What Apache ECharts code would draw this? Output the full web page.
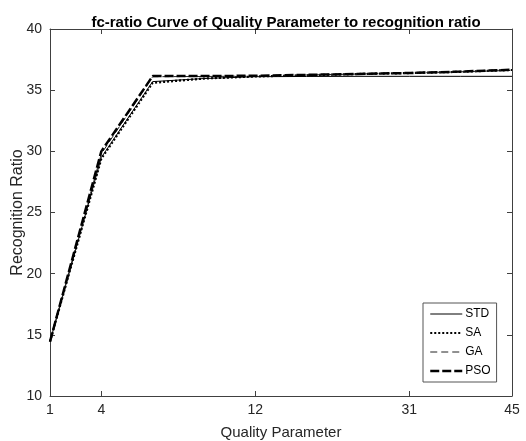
<!DOCTYPE html>
<html>
<head>
<meta charset="utf-8">
<script src="https://cdn.jsdelivr.net/npm/echarts@6/dist/echarts.min.js"></script>
<style>html,body{margin:0;padding:0;background:#fff}#c{width:526px;height:441px}</style>
</head>
<body>
<div id="c"></div>
<script>
// sample positions along x (equally spaced samples)
const xIndex = [0, 1, 2, 3, 4, 5, 6, 7, 8, 9];
// tick positions and their labels
const tickIndex = [0, 1, 4, 7, 9];
const tickLabels = ['1', '4', '12', '31', '45'];

const seriesNames = ['STD', 'SA', 'GA', 'PSO'];
const STD = [14.45, 29.5, 35.7, 35.95, 36.1, 36.12, 36.13, 36.13, 36.13, 36.13];
const SA  = [14.45, 29.4, 35.6, 35.95, 36.12, 36.22, 36.32, 36.4, 36.5, 36.65];
const GA  = [14.45, 29.8, 36.1, 36.12, 36.15, 36.24, 36.32, 36.4, 36.5, 36.62];
const PSO = [14.45, 30.0, 36.15, 36.15, 36.18, 36.25, 36.33, 36.4, 36.52, 36.67];

const font = 'Liberation Sans, Arial, sans-serif';
const axisCol = '#404040';
const txtCol = '#262626';

const styles = {
  STD: {color: '#000', width: 1, type: 'solid'},
  SA:  {color: '#000', width: 2.2, type: [2, 2]},
  GA:  {color: '#222', width: 1, type: [7, 4]},
  PSO: {color: '#000', width: 2.5, type: [9, 3]}
};

function pairs(v) { return xIndex.map((x, i) => [x, v[i]]); }

const chart = echarts.init(document.getElementById('c'), null, {renderer: 'canvas'});
const xCommon = {
  type: 'value', min: 0, max: 9,
  axisLine: {show: true, onZero: false, lineStyle: {color: axisCol, width: 1}},
  axisTick: {show: true, inside: true, length: 5, customValues: tickIndex, lineStyle: {color: axisCol}},
  splitLine: {show: false}
};
const yCommon = {
  type: 'value', min: 10, max: 40, interval: 5,
  axisLine: {show: true, onZero: false, lineStyle: {color: axisCol, width: 1}},
  axisTick: {show: true, inside: true, length: 5, lineStyle: {color: axisCol}},
  splitLine: {show: false}
};
const dataSets = {STD, SA, GA, PSO};
const option = {
  animation: false,
  backgroundColor: '#fff',
  title: {
    text: 'fc-ratio Curve of Quality Parameter to recognition ratio',
    left: 281, top: 10, textAlign: 'center',
    textStyle: {fontFamily: font, fontSize: 15, fontWeight: 'bold', color: '#000'}
  },
  grid: {left: 50, right: 14, top: 29, bottom: 45, containLabel: false, outerBoundsMode: 'none'},
  xAxis: [
    Object.assign({}, xCommon, {
      position: 'bottom',
      name: 'Quality Parameter', nameLocation: 'middle', nameGap: 29,
      nameTextStyle: {fontFamily: font, fontSize: 15, color: txtCol},
      axisLabel: {show: true, customValues: tickIndex, margin: 7,
        fontFamily: font, fontSize: 14, color: txtCol,
        formatter: v => tickLabels[tickIndex.indexOf(Math.round(v))] || ''}
    }),
    Object.assign({}, xCommon, {position: 'top', axisLabel: {show: false}})
  ],
  yAxis: [
    Object.assign({}, yCommon, {
      position: 'left',
      name: 'Recognition Ratio', nameLocation: 'middle', nameGap: 24, nameMoveOverlap: false,
      nameTextStyle: {fontFamily: font, fontSize: 16, color: txtCol},
      axisLabel: {show: true, margin: 8, fontFamily: font, fontSize: 14, color: txtCol}
    }),
    Object.assign({}, yCommon, {position: 'right', axisLabel: {show: false}})
  ],
  legend: {
    orient: 'vertical', left: 423, top: 303, width: 74,
    itemWidth: 32, itemHeight: 10, itemGap: 7,
    padding: [5, 6, 5, 6],
    backgroundColor: '#fff',
    borderColor: '#555', borderWidth: 1, borderRadius: 0,
    itemStyle: {color: 'transparent', borderWidth: 0, opacity: 0},
    textStyle: {fontFamily: font, fontSize: 12, color: '#000', padding: [0, 0, 0, -2]},
    data: seriesNames.map(n => ({name: n, lineStyle: Object.assign({}, styles[n])}))
  },
  series: seriesNames.map(n => ({
    name: n, type: 'line', data: pairs(dataSets[n]), symbol: 'none',
    lineStyle: styles[n], itemStyle: {color: styles[n].color}
  }))
};
chart.setOption(option);
</script>
</body>
</html>
